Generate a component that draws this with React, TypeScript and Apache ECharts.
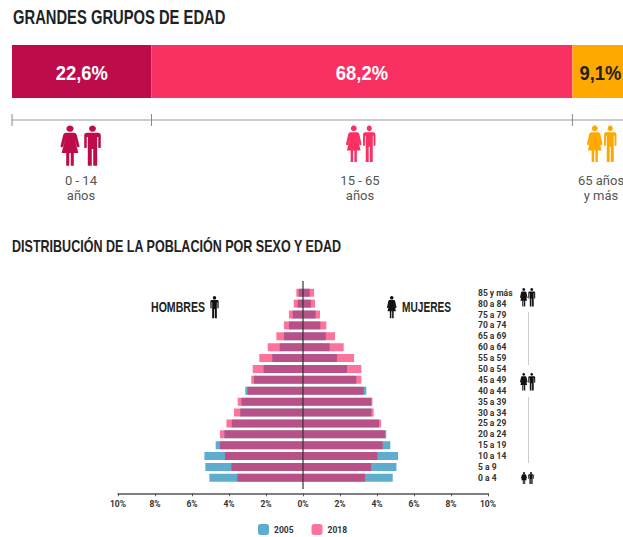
import React, { useEffect, useRef } from "react";
import * as echarts from "echarts";

const ageGroups = ["0 a 4","5 a 9","10 a 14","15 a 19","20 a 24","25 a 29","30 a 34","35 a 39","40 a 44","45 a 49","50 a 54","55 a 59","60 a 64","65 a 69","70 a 74","75 a 79","80 a 84","85 y más"];
const men2005 = [5.06,5.28,5.33,4.72,4.25,3.85,3.39,3.33,3.12,2.65,2.13,1.66,1.26,1.03,0.76,0.56,0.29,0.23];
const women2005 = [4.85,5.05,5.14,4.72,4.5,4.11,3.7,3.7,3.42,2.88,2.38,1.84,1.44,1.23,0.94,0.68,0.43,0.36];
const men2018 = [3.55,3.87,4.22,4.49,4.49,4.14,3.73,3.53,3.0,2.8,2.72,2.36,1.91,1.44,1.03,0.76,0.5,0.36];
const women2018 = [3.35,3.68,4.02,4.31,4.43,4.22,3.82,3.75,3.28,3.15,3.15,2.76,2.2,1.73,1.26,0.92,0.65,0.6];
const groupValues = [22.6, 68.2, 9.1];
const groupLabels = ["22,6%", "68,2%", "9,1%"];
const groupColors = ["#BE0B4C", "#F93163", "#FFA900"];
const groupCaptions = ["0 - 14\naños", "15 - 65\naños", "65 años\ny más"];

const MAN = "M25 0a9.5 9.5 0 1 1 -0.01 0z M10 22H40a8 8 0 0 1 8 8V64a3.5 3.5 0 0 1 -7 0V34h-3V120H27V70H23V120H12V34H9V64a3.5 3.5 0 0 1 -7 0V30a8 8 0 0 1 8 -8z";
const WOMAN = "M25 0a9.5 9.5 0 1 1 -0.01 0z M15 22H35c5 0 7 3 8 7l7 32a3.5 3.5 0 0 1 -7 1L37 38 47 82H35V120H27V82H23V120H15V82H3L13 38 7 62a3.5 3.5 0 0 1 -7 -1L7 29c1 -4 3 -7 8 -7z";
echarts.graphic.registerShape("manIcon", echarts.graphic.extendPath(MAN as any, {} as any) as any);
echarts.graphic.registerShape("womanIcon", echarts.graphic.extendPath(WOMAN as any, {} as any) as any);

const DISPLAY = '"Liberation Sans", sans-serif';
const BLUE = "#5EADCF";
const PINK = "rgba(250,15,85,0.58)";

const icon = (type: string, x: number, y: number, sx: number, sy: number, fill: string) => ({
  type, x, y, scaleX: sx, scaleY: sy, z: 10, style: { fill }, silent: true,
});
const heading = (text: string, x: number, y: number, fontSize: number, scaleX: number, color = "#222", align = "left") => ({
  type: "text", x, y, scaleX, z: 10, silent: true,
  style: { text, fill: color, fontFamily: DISPLAY, fontWeight: "bold", fontSize, align, verticalAlign: "middle" },
});
const caption = (text: string, x: number, y: number) => ({
  type: "text", x, y, z: 10, silent: true,
  style: { text, fill: "#555", fontFamily: "Roboto", fontSize: 13, lineHeight: 15, align: "center", verticalAlign: "top" },
});
const line = (x1: number, y1: number, x2: number, y2: number, stroke: string, lineWidth: number) => ({
  type: "line", z: 10, silent: true, shape: { x1, y1, x2, y2 }, style: { stroke, lineWidth },
});

export default function App() {
  const ref = useRef<HTMLDivElement>(null);
  useEffect(() => {
    document.body.style.margin = "0";
    const chart = echarts.init(ref.current!, undefined, { renderer: "svg" });
    const neg = (a: number[]) => a.map((v) => -v);
    const pyramid = (name: string, data: number[], color: string) => ({
      type: "bar", name, data, xAxisIndex: 1, yAxisIndex: 1, barWidth: 8, barGap: "-100%",
      itemStyle: { color }, silent: true,
    });
    chart.setOption({
      animation: false,
      grid: [
        { left: 12, top: 45, right: 0, height: 53 },
        { left: 118, top: 287.3, width: 370, height: 196 },
      ],
      xAxis: [
        { gridIndex: 0, type: "value", min: 0, max: 99, show: false },
        {
          gridIndex: 1, type: "value", min: -10, max: 10, interval: 2, offset: 10, position: "bottom",
          splitLine: { show: false },
          axisLine: { show: true, onZero: false, lineStyle: { color: "#555", width: 1.5 } },
          axisTick: { show: true, length: 3, lineStyle: { color: "#555" } },
          axisLabel: { color: "#333", fontFamily: "Roboto", fontWeight: "bold", fontSize: 8.5, margin: 6, formatter: (v: number) => Math.abs(v) + "%" },
        },
      ],
      yAxis: [
        { gridIndex: 0, type: "category", data: ["Total"], show: false },
        {
          gridIndex: 1, type: "category", data: ageGroups, position: "right", offset: -10,
          axisLine: { show: false }, axisTick: { show: false },
          axisLabel: { color: "#333", fontFamily: "Roboto", fontWeight: "bold", fontSize: 8.5, margin: 0, align: "left", interval: 0 },
        },
      ],
      legend: {
        left: 258, top: 524, itemWidth: 11, itemHeight: 11, itemGap: 18, padding: 0, data: ["2005", "2018"],
        textStyle: { color: "#333", fontFamily: "Roboto", fontWeight: "bold", fontSize: 8.5 },
      },
      series: [
        ...groupValues.map((v, i) => ({
          type: "bar", name: groupLabels[i], stack: "total", data: [v], xAxisIndex: 0, yAxisIndex: 0, barWidth: "100%", silent: true,
          itemStyle: { color: groupColors[i] },
        })),
        pyramid("2005", neg(men2005), BLUE),
        pyramid("2005", women2005, BLUE),
        pyramid("2018", neg(men2018), PINK),
        pyramid("2018", women2018, PINK),
      ],
    });
    // Ruler ticks and percentage labels follow the stacked bar's own scale.
    const px = (v: number) => chart.convertToPixel({ xAxisIndex: 0 }, v) as number;
    let sum = 0;
    const edges: number[] = [12];
    const centres: number[] = [];
    groupValues.forEach((v, i) => {
      centres.push(px(sum + v / 2));
      sum += v;
      if (i < 2) edges.push(px(sum));
    });
    const zero = chart.convertToPixel({ xAxisIndex: 1 }, 0) as number;
    chart.setOption({
      graphic: [
        heading("GRANDES GRUPOS DE EDAD", 13, 17, 20.5, 0.72),
        heading("DISTRIBUCIÓN DE LA POBLACIÓN POR SEXO Y EDAD", 12, 246, 16.5, 0.76),
        heading("HOMBRES", 151, 307, 14.5, 0.73),
        heading("MUJERES", 402, 307, 14.5, 0.7),
        ...groupLabels.map((t, i) => heading(t, centres[i], 73, 20, 0.92, i === 2 ? "#222" : "#fff", "center")),
        line(12, 120, 623, 120, "#bbb", 1.5),
        ...edges.map((x) => line(x, 114, x, 126, "#888", 1)),
        line(zero, 281, zero, 489, "#333", 1.2),
        caption(groupCaptions[0], 81, 172.5),
        caption(groupCaptions[1], 360, 172.5),
        caption(groupCaptions[2], 601, 172.5),
        icon("womanIcon", 60.5, 125.5, 0.38, 0.335, groupColors[0]),
        icon("manIcon", 83.5, 125.5, 0.36, 0.335, groupColors[0]),
        icon("womanIcon", 346, 125.5, 0.31, 0.305, groupColors[1]),
        icon("manIcon", 362.5, 125.5, 0.27, 0.305, groupColors[1]),
        icon("womanIcon", 587, 125.5, 0.31, 0.305, groupColors[2]),
        icon("manIcon", 603.5, 125.5, 0.27, 0.305, groupColors[2]),
        icon("manIcon", 210, 296, 0.18, 0.185, "#111"),
        icon("womanIcon", 387, 296, 0.19, 0.185, "#111"),
        icon("womanIcon", 520, 288, 0.15, 0.155, "#111"),
        icon("manIcon", 528, 288, 0.15, 0.155, "#111"),
        icon("womanIcon", 520, 373, 0.15, 0.145, "#111"),
        icon("manIcon", 528, 373, 0.15, 0.145, "#111"),
        icon("womanIcon", 521, 472, 0.12, 0.1, "#111"),
        icon("manIcon", 528, 472, 0.12, 0.1, "#111"),
        line(528.5, 312, 528.5, 365, "#ccc", 1),
        line(528.5, 397, 528.5, 463, "#ccc", 1),
      ],
    });
    return () => chart.dispose();
  }, []);
  return <div ref={ref} style={{ width: 623, height: 537 }} />;
}
